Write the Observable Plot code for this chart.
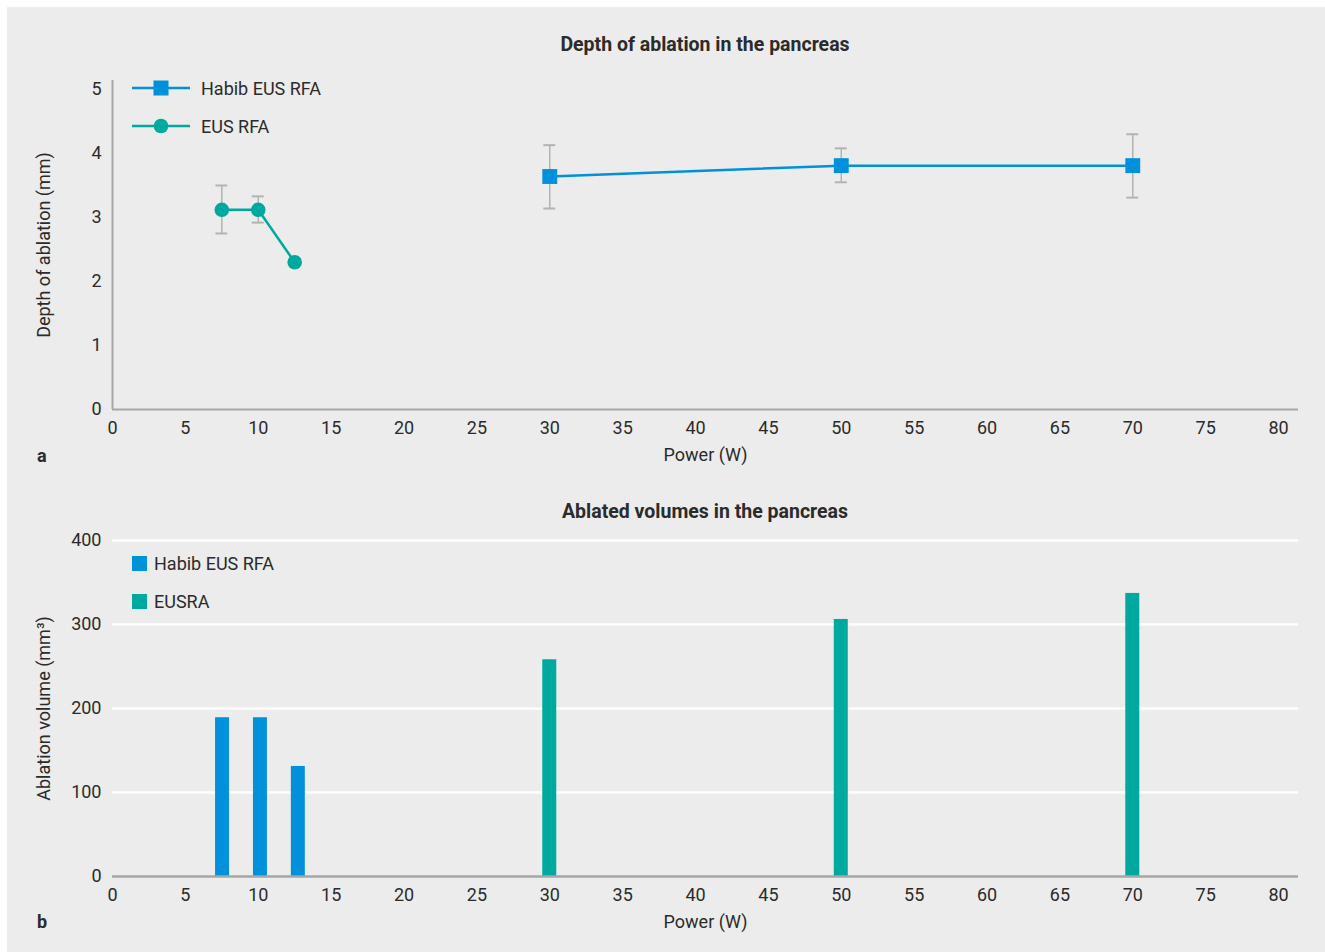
<!DOCTYPE html>
<html>
<head>
<meta charset="utf-8">
<script src="https://cdn.jsdelivr.net/npm/d3@7"></script>
<script src="https://cdn.jsdelivr.net/npm/@observablehq/plot@0.6"></script>
<style>
  html, body { margin: 0; padding: 0; background: #ffffff; }
  #page { position: relative; width: 1325px; height: 952px; overflow: hidden; font-family: Roboto, "Open Sans", sans-serif; color: #2b2b2b; }
  #bg { position: absolute; left: 7px; top: 7px; right: 0; bottom: 0; background: #ebeceb; }
  .title { position: absolute; font-weight: bold; font-size: 19.5px; transform: translate(-50%, -50%); white-space: nowrap; }
  .panel { position: absolute; font-weight: bold; font-size: 18px; transform: translate(0, -50%); }
  .legend { position: absolute; display: flex; align-items: center; font-size: 18px; white-space: nowrap; }
  svg { overflow: visible; }
</style>
</head>
<body>
<div id="page">
  <div id="bg"></div>
</div>
<script>
// ---------- data ----------
const xTicks = [0, 5, 10, 15, 20, 25, 30, 35, 40, 45, 50, 55, 60, 65, 70, 75, 80];
const depthTicks = [0, 1, 2, 3, 4, 5];
const volumeTicks = [0, 100, 200, 300, 400];

const seriesNames = ["Habib EUS RFA", "EUS RFA"];
const habibPower = [30, 50, 70];
const habibDepth = [3.64, 3.81, 3.81];
const habibDepthLo = [3.14, 3.55, 3.31];
const habibDepthHi = [4.13, 4.08, 4.30];

const eusPower = [7.5, 10, 12.5];
const eusDepth = [3.12, 3.12, 2.30];
const eusDepthLo = [2.75, 2.92, null];
const eusDepthHi = [3.50, 3.33, null];

const barNames = ["Habib EUS RFA", "EUSRA"];
const habibBarPower = [7.55, 10.15, 12.75];
const habibVolume = [189, 189, 131];
const eusraBarPower = [30, 50, 70];
const eusraVolume = [258, 306, 337];

// ---------- styles ----------
const BLUE = "#0091da";
const TEAL = "#00a99d";
const AXIS = "#a6a6a6";
const ERR = "#b3b3b3";
const FONT = 'Roboto, "Open Sans", sans-serif';
const xDomain = [0, 81.37];

const page = document.getElementById("page");

const habib = habibPower.map((x, i) => ({x, y: habibDepth[i], lo: habibDepthLo[i], hi: habibDepthHi[i]}));
const eus = eusPower.map((x, i) => ({x, y: eusDepth[i], lo: eusDepthLo[i], hi: eusDepthHi[i]}));
const errs = [...habib, ...eus].filter(d => d.lo != null);
const capHalf = 0.41;

const topPlot = Plot.plot({
  width: 1325,
  height: 480,
  marginLeft: 112,
  marginRight: 27,
  marginTop: 80,
  marginBottom: 71,
  style: {background: "transparent", fontFamily: FONT, fontSize: "18px", color: "#2b2b2b"},
  x: {domain: xDomain, ticks: xTicks, tickSize: 0, tickPadding: 12, tickFormat: d => String(d), label: "Power (W)", labelAnchor: "center", labelOffset: 51, labelArrow: "none"},
  y: {domain: [0, 5.14], ticks: depthTicks, tickSize: 0, tickPadding: 11, tickFormat: d => String(d), label: "Depth of ablation (mm)", labelAnchor: "center", labelOffset: 75, labelArrow: "none"},
  marks: [
    Plot.ruleY([0], {stroke: AXIS, strokeWidth: 2}),
    Plot.ruleX([0], {stroke: AXIS, strokeWidth: 2}),
    Plot.ruleX(errs, {x: "x", y1: "lo", y2: "hi", stroke: ERR, strokeWidth: 1.5}),
    Plot.ruleY(errs, {y: "lo", x1: d => d.x - capHalf, x2: d => d.x + capHalf, stroke: ERR, strokeWidth: 2}),
    Plot.ruleY(errs, {y: "hi", x1: d => d.x - capHalf, x2: d => d.x + capHalf, stroke: ERR, strokeWidth: 2}),
    Plot.line(habib, {x: "x", y: "y", stroke: BLUE, strokeWidth: 2.5}),
    Plot.dot(habib, {x: "x", y: "y", symbol: "square", r: 8.4, fill: BLUE, stroke: "none"}),
    Plot.line(eus, {x: "x", y: "y", stroke: TEAL, strokeWidth: 2.5}),
    Plot.dot(eus, {x: "x", y: "y", symbol: "circle", r: 7.3, fill: TEAL, stroke: "none"})
  ]
});
topPlot.style.position = "absolute";
topPlot.style.left = "0px";
topPlot.style.top = "0px";
page.appendChild(topPlot);

const bars = [
  ...habibBarPower.map((x, i) => ({x, v: habibVolume[i], s: barNames[0]})),
  ...eusraBarPower.map((x, i) => ({x, v: eusraVolume[i], s: barNames[1]}))
];
const barHalf = 0.48;

const bottomPlot = Plot.plot({
  width: 1325,
  height: 472,
  marginLeft: 112,
  marginRight: 27,
  marginTop: 60,
  marginBottom: 76,
  style: {background: "transparent", fontFamily: FONT, fontSize: "18px", color: "#2b2b2b"},
  x: {domain: xDomain, ticks: xTicks, tickSize: 0, tickPadding: 12, tickFormat: d => String(d), label: "Power (W)", labelAnchor: "center", labelOffset: 51, labelArrow: "none"},
  y: {domain: [0, 400], ticks: volumeTicks, tickSize: 0, tickPadding: 11, tickFormat: d => String(d), label: "Ablation volume (mm³)", labelAnchor: "center", labelOffset: 75, labelArrow: "none"},
  color: {domain: barNames, range: [BLUE, TEAL]},
  marks: [
    Plot.ruleY(volumeTicks.filter(d => d > 0), {stroke: "#ffffff", strokeWidth: 2.5}),
    Plot.rectY(bars, {x1: d => d.x - barHalf, x2: d => d.x + barHalf, y: "v", fill: "s"}),
    Plot.ruleY([0], {stroke: AXIS, strokeWidth: 2.5})
  ]
});
bottomPlot.style.position = "absolute";
bottomPlot.style.left = "0px";
bottomPlot.style.top = "480px";
page.appendChild(bottomPlot);

// ---------- titles, panel letters ----------
function addDiv(cls, text, left, topPx) {
  const d = document.createElement("div");
  d.className = cls;
  d.textContent = text;
  d.style.left = left + "px";
  d.style.top = topPx + "px";
  page.appendChild(d);
  return d;
}
addDiv("title", "Depth of ablation in the pancreas", 705, 44);
addDiv("title", "Ablated volumes in the pancreas", 705, 511);
addDiv("panel", "a", 37, 455);
addDiv("panel", "b", 37, 921);

// ---------- legends ----------
function lineLegend(name, color, symbol, cy) {
  const d = document.createElement("div");
  d.className = "legend";
  d.style.left = "132px";
  d.style.top = (cy - 12) + "px";
  d.style.height = "24px";
  const ns = "http://www.w3.org/2000/svg";
  const svg = document.createElementNS(ns, "svg");
  svg.setAttribute("width", "58");
  svg.setAttribute("height", "24");
  const ln = document.createElementNS(ns, "line");
  ln.setAttribute("x1", "0"); ln.setAttribute("x2", "58");
  ln.setAttribute("y1", "12"); ln.setAttribute("y2", "12");
  ln.setAttribute("stroke", color); ln.setAttribute("stroke-width", "2.5");
  svg.appendChild(ln);
  let m;
  if (symbol === "square") {
    m = document.createElementNS(ns, "rect");
    m.setAttribute("x", 29 - 7.5); m.setAttribute("y", 12 - 7.5);
    m.setAttribute("width", 15); m.setAttribute("height", 15);
  } else {
    m = document.createElementNS(ns, "circle");
    m.setAttribute("cx", 29); m.setAttribute("cy", 12); m.setAttribute("r", 7.3);
  }
  m.setAttribute("fill", color);
  svg.appendChild(m);
  d.appendChild(svg);
  const t = document.createElement("span");
  t.textContent = name;
  t.style.marginLeft = "11px";
  d.appendChild(t);
  page.appendChild(d);
}
lineLegend(seriesNames[0], BLUE, "square", 88);
lineLegend(seriesNames[1], TEAL, "circle", 126);

function boxLegend(name, color, cy) {
  const d = document.createElement("div");
  d.className = "legend";
  d.style.left = "132px";
  d.style.top = (cy - 12) + "px";
  d.style.height = "24px";
  const sw = document.createElement("span");
  sw.style.display = "inline-block";
  sw.style.width = "15px";
  sw.style.height = "15px";
  sw.style.background = color;
  d.appendChild(sw);
  const t = document.createElement("span");
  t.textContent = name;
  t.style.marginLeft = "7px";
  d.appendChild(t);
  page.appendChild(d);
}
boxLegend(barNames[0], BLUE, 563);
boxLegend(barNames[1], TEAL, 601);
</script>
</body>
</html>
